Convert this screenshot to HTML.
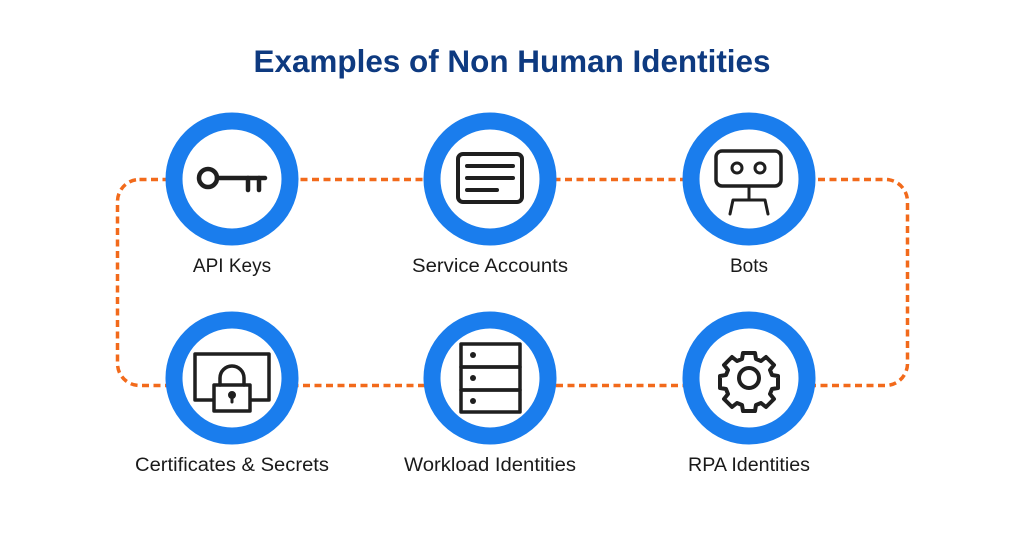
<!DOCTYPE html>
<html><head><meta charset="utf-8"><style>
html,body{margin:0;padding:0;background:#fff;}
svg{display:block;}
text{font-family:"Liberation Sans",sans-serif;}
</style></head><body>
<svg width="1024" height="546" viewBox="0 0 1024 546">
<rect width="1024" height="546" fill="#fff"/>
<text x="512" y="72" text-anchor="middle" font-size="31.5" font-weight="bold" fill="#0e3a80" textLength="517" lengthAdjust="spacingAndGlyphs">Examples of Non Human Identities</text>
<rect x="117.5" y="179.5" width="790" height="206" rx="22" fill="none" stroke="#f26a1b" stroke-width="3.5" stroke-dasharray="7 4.5"/>
<g fill="#fff" stroke="#1a7ded" stroke-width="17">
<circle cx="232" cy="179" r="58"/>
<circle cx="490" cy="179" r="58"/>
<circle cx="749" cy="179" r="58"/>
<circle cx="232" cy="378" r="58"/>
<circle cx="490" cy="378" r="58"/>
<circle cx="749" cy="378" r="58"/>
</g>
<g fill="none" stroke="#1f1f1f" stroke-width="4" stroke-linecap="round" stroke-linejoin="round">
<circle cx="208" cy="178" r="9" stroke-width="4.5"/>
<line x1="217" y1="178" x2="265" y2="178" stroke-width="4.5"/>
<line x1="248" y1="178" x2="248" y2="190" stroke-width="4.5"/>
<line x1="259" y1="178" x2="259" y2="190" stroke-width="4.5"/>
<rect x="458" y="154" width="64" height="48" rx="5"/>
<line x1="467" y1="166" x2="513" y2="166"/>
<line x1="467" y1="178" x2="513" y2="178"/>
<line x1="467" y1="190" x2="497" y2="190"/>
<rect x="716" y="151" width="65" height="35" rx="6" stroke-width="3.5"/>
<circle cx="737" cy="168" r="5" stroke-width="3"/>
<circle cx="760" cy="168" r="5" stroke-width="3"/>
<line x1="749" y1="186" x2="749" y2="200" stroke-width="3"/>
<path d="M730 214 L733 200 L765 200 L768 214" stroke-width="3"/>
<rect x="195" y="354" width="74" height="46" stroke-width="3.5"/>
<rect x="214" y="385" width="36" height="26" fill="#fff" stroke-width="3.5"/>
<path d="M220 385 V378 A12 12 0 0 1 244 378 V385" stroke-width="3.5"/>
<circle cx="232" cy="395" r="2" fill="#1f1f1f"/>
<line x1="232" y1="396" x2="232" y2="402" stroke-width="3"/>
<rect x="461" y="344" width="59" height="23" stroke-width="3.5"/>
<rect x="461" y="367" width="59" height="23" stroke-width="3.5"/>
<rect x="461" y="390" width="59" height="22" stroke-width="3.5"/>
<circle cx="749" cy="378" r="10"/>
<path d="M743 353 h12 l1 6 l5 2 l5-4 l8 8 l-4 5 l2 5 l6 1 v12 l-6 1 l-2 5 l4 5 l-8 8 l-5-4 l-5 2 l-1 6 h-12 l-1-6 l-5-2 l-5 4 l-8-8 l4-5 l-2-5 l-6-1 v-12 l6-1 l2-5 l-4-5 l8-8 l5 4 l5-2 z"/>
</g>
<g fill="#1f1f1f">
<circle cx="473" cy="355" r="3"/>
<circle cx="473" cy="378" r="3"/>
<circle cx="473" cy="401" r="3"/>
</g>
<g font-size="19" fill="#1a1a1a" text-anchor="middle">
<text x="232" y="272">API Keys</text>
<text x="490" y="272" textLength="156" lengthAdjust="spacingAndGlyphs">Service Accounts</text>
<text x="749" y="272">Bots</text>
<text x="232" y="471" textLength="194" lengthAdjust="spacingAndGlyphs">Certificates &amp; Secrets</text>
<text x="490" y="471" textLength="172" lengthAdjust="spacingAndGlyphs">Workload Identities</text>
<text x="749" y="471" textLength="122" lengthAdjust="spacingAndGlyphs">RPA Identities</text>
</g>
</svg>
</body></html>
